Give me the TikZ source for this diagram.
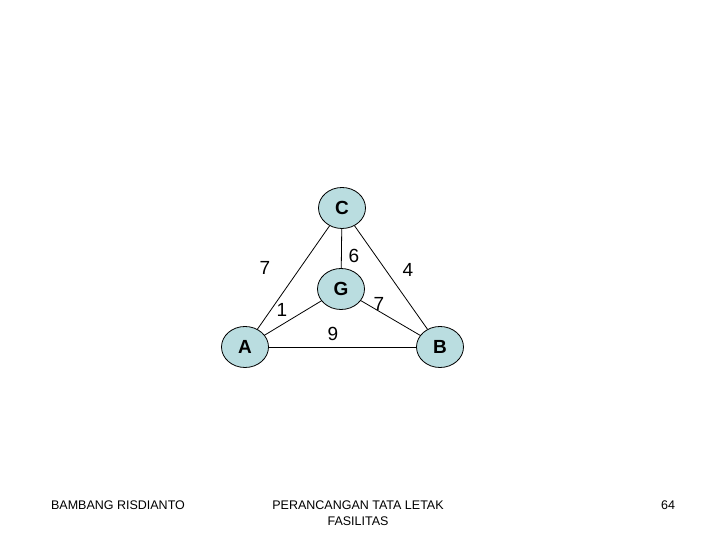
\documentclass[tikz,border=0pt]{standalone}
\usepackage{fontspec}
\setmainfont{Liberation Sans}
\usetikzlibrary{shapes.geometric}
\definecolor{nodefill}{RGB}{186,221,224}
\begin{document}
\begin{tikzpicture}[x=1pt,y=1pt, line width=0.8pt,
        vertex/.style = {ellipse, draw, fill=nodefill, minimum width=47pt, minimum height=41pt,
                         inner sep=0pt, font=\fontsize{19}{19}\selectfont\bfseries},
        weight/.style = {font=\fontsize{19}{19}\selectfont},
        footer/.style = {font=\fontsize{12.5}{16}\selectfont, align=center}]
    \useasboundingbox (0,0) rectangle (720,540);
    % vertices
    \node[vertex] (C) at (342,332) {C};
    \node[vertex] (G) at (341,251) {G};
    \node[vertex] (A) at (245,193) {A};
    \node[vertex] (B) at (440,193) {B};
    % edges
    \draw (A) -- (C);
    \draw (C) -- (B);
    \draw (C) -- (G);
    \draw (A) -- (G);
    \draw (G) -- (B);
    \draw (A) -- (B);
    % weights
    \node[weight] (wAC) at (265,272) {7};
    \node[weight] (wCG) at (354,284) {6};
    \node[weight] (wCB) at (408,270) {4};
    \node[weight] (wAG) at (282,230) {1};
    \node[weight] (wGB) at (379,236) {7};
    \node[weight] (wAB) at (333,206) {9};
    % footer
    \node[footer] (author) at (118,35) {BAMBANG RISDIANTO};
    \node[footer, anchor=north] (title) at (358,43) {PERANCANGAN TATA LETAK\\FASILITAS};
    \node[footer] (page) at (668,35) {64};
\end{tikzpicture}
\end{document}
